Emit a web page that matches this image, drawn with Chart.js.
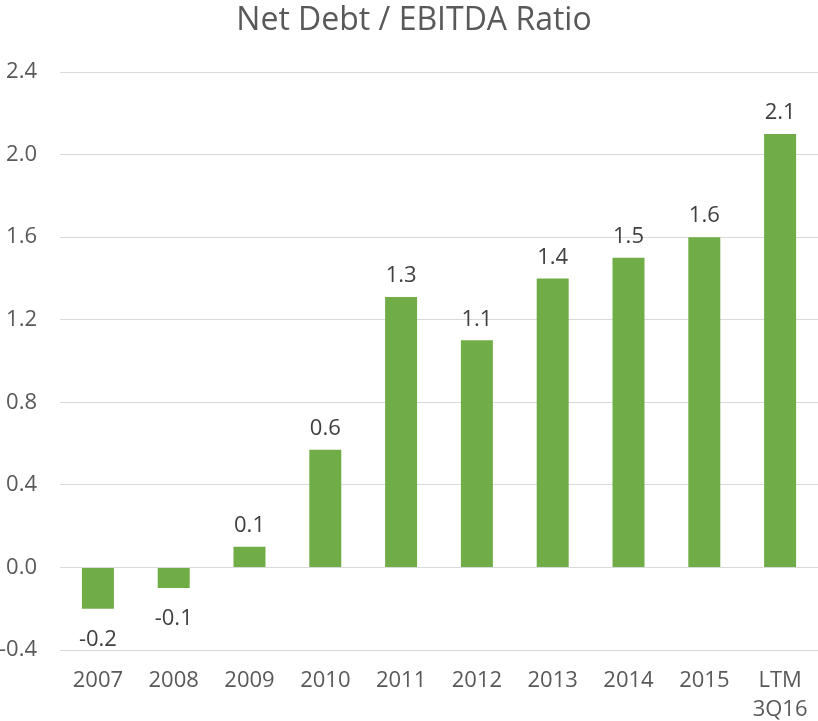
<!DOCTYPE html>
<html>
<head>
<meta charset="utf-8">
<script src="https://cdn.jsdelivr.net/npm/chart.js@4/dist/chart.umd.min.js"></script>
<style>
  html, body { margin: 0; padding: 0; background: #fff; }
  #wrap { width: 818px; height: 721px; }
</style>
</head>
<body>
<div id="wrap"><canvas id="ratio"></canvas></div>
<script>
// Net debt / EBITDA by year
const periods = ['2007', '2008', '2009', '2010', '2011', '2012', '2013', '2014', '2015', ['LTM', '3Q16']];
const ratios = [-0.2, -0.1, 0.1, 0.57, 1.31, 1.1, 1.4, 1.5, 1.6, 2.1];
const yTicks = [-0.4, 0.0, 0.4, 0.8, 1.2, 1.6, 2.0, 2.4];

const textColor = '#595959';
const font = 'Open Sans';

// value labels above (or below, for negatives) each bar
const valueLabels = {
  id: 'valueLabels',
  afterLayout(chart) {
    // nudge the title box so the heading sits a bit right of canvas centre
    if (chart.titleBlock) chart.titleBlock.left = 10;
  },
  afterDatasetsDraw(chart) {
    const ctx = chart.ctx;
    const meta = chart.getDatasetMeta(0);
    ctx.save();
    ctx.font = `22px "${font}"`;
    ctx.fillStyle = '#404040';
    ctx.textAlign = 'center';
    ctx.textBaseline = 'middle';
    meta.data.forEach((bar, i) => {
      const v = ratios[i];
      const y = v < 0 ? bar.y + 31 : bar.y - 21;
      ctx.fillText(v.toFixed(1), bar.x, y);
    });
    ctx.restore();
  },
};

new Chart(document.getElementById('ratio'), {
  type: 'bar',
  data: {
    labels: periods,
    datasets: [{
      data: ratios,
      backgroundColor: '#70AD47',
      categoryPercentage: 1,
      barPercentage: 0.422,
    }],
  },
  options: {
    responsive: true,
    maintainAspectRatio: false,
    animation: false,
    layout: { padding: 0 },
    plugins: {
      legend: { display: false },
      tooltip: { enabled: false },
      title: {
        display: true,
        text: 'Net Debt / EBITDA Ratio',
        color: textColor,
        font: { family: font, size: 32, weight: 'normal' },
        padding: { top: 2, bottom: 31.6 },
      },
    },
    scales: {
      x: {
        grid: { display: false, drawTicks: false },
        border: { display: false },
        ticks: {
          color: textColor,
          font: { family: font, size: 22, lineHeight: 1.32 },
          padding: 16,
          maxRotation: 0,
          autoSkip: false,
        },
        afterFit(scale) {
          scale.height = 71;
          scale.paddingLeft = 0;
          scale.paddingRight = 0;
        },
      },
      y: {
        min: -0.4,
        max: 2.4,
        afterBuildTicks(scale) { scale.ticks = yTicks.map((value) => ({ value })); },
        grid: { color: '#d9d9d9', lineWidth: 1, drawTicks: false },
        border: { display: false },
        ticks: {
          color: textColor,
          font: { family: font, size: 22 },
          padding: 23,
          callback: (v) => Number(v).toFixed(1),
        },
        afterFit(scale) { scale.width = 60; },
      },
    },
  },
  plugins: [valueLabels],
});
</script>
</body>
</html>
